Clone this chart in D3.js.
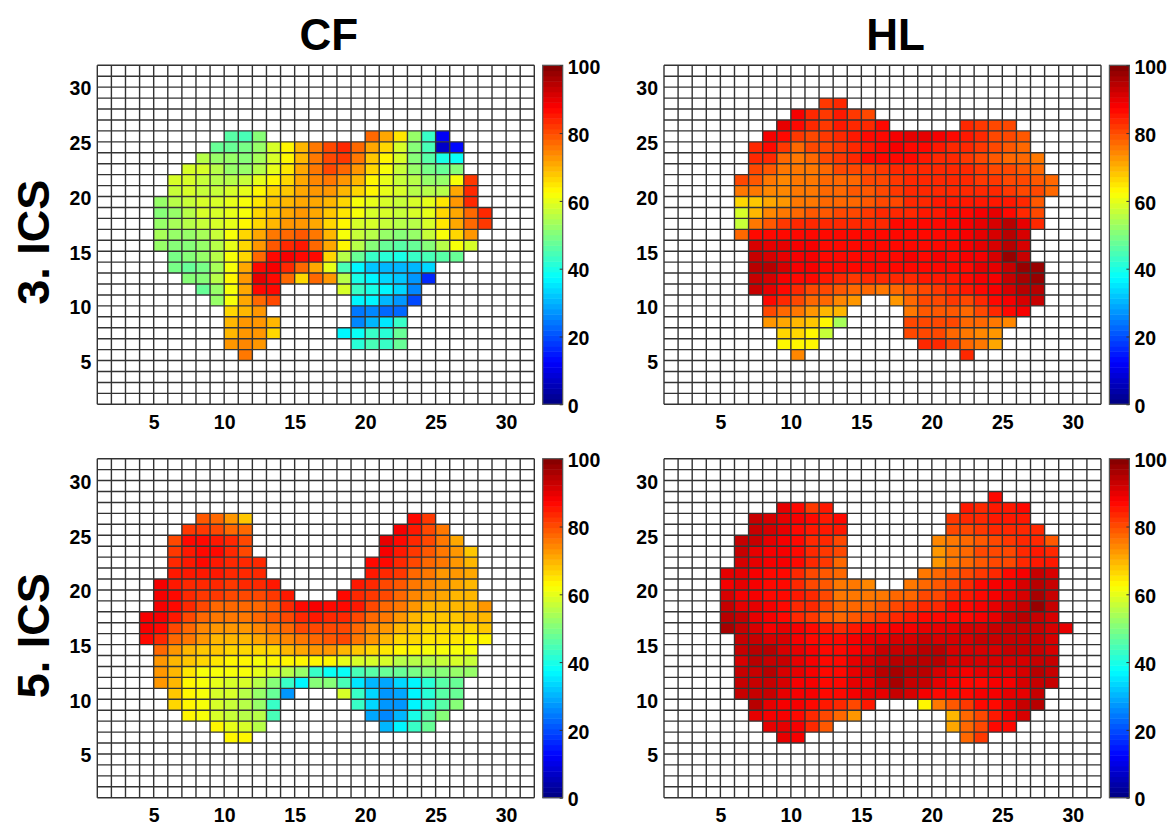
<!DOCTYPE html>
<html>
<head>
<meta charset="utf-8">
<script src="https://cdn.jsdelivr.net/npm/d3@7"></script>
<style>
  html, body { margin: 0; padding: 0; background: #fff; }
  text { font-family: "Liberation Sans", Arial, sans-serif; font-weight: bold; fill: #000; }
</style>
</head>
<body>
<div id="chart"></div>
<script>
// each entry: row (y), first column (x), values for the columns from there on
var cf3 = [
  [25, 10, [46,45,50]], [25, 20, [77,71,65,53,43,12]],
  [24, 9, [47,48,49,52,58,63,70,75,80,83,77,71,67,59,50,44,7,13]],
  [23, 8, [55,53,52,51,54,58,63,70,75,80,82,76,68,64,59,51,46,40,39]],
  [22, 7, [59,58,55,53,53,56,60,65,71,76,80,77,72,66,62,57,52,49,47,50]],
  [21, 6, [59,58,57,55,55,57,60,63,67,71,74,75,73,69,63,60,57,55,52,53,62,82]],
  [20, 6, [57,58,57,57,58,60,63,66,68,71,72,72,70,67,63,60,58,56,56,55,71,83]],
  [19, 5, [52,55,57,58,58,60,62,65,68,70,71,71,69,66,62,60,58,57,58,60,65,72,83]],
  [18, 5, [50,53,56,58,58,60,62,66,68,71,72,71,68,65,61,59,58,57,58,60,66,71,77,83]],
  [17, 5, [53,54,55,57,59,60,63,67,70,73,73,71,66,63,59,58,57,56,55,58,65,71,78,82]],
  [16, 5, [54,52,53,54,57,61,66,71,75,77,79,75,69,62,57,55,53,51,53,57,61,67,73]],
  [15, 5, [52,50,50,52,55,60,67,73,79,83,85,78,71,63,56,51,48,46,48,51,56,62,59]],
  [14, 6, [49,50,52,55,61,67,77,87,89,87,86,67,56,48,43,42,40,43,45,46,47]],
  [13, 6, [49,48,49,54,62,71,87,88,84,77,71,60,44,36,32,31,30,31,33]],
  [12, 7, [51,50,55,64,73,90,87,78,66,77,72,56,40,37,34,32,27,17]],
  [11, 8, [48,53,61,71,86,87]], [11, 18, [58,43,40,36,33,26]],
  [10, 9, [53,62,71,78,81]], [10, 19, [37,36,30,27,19]],
  [9, 10, [66,70,72]], [9, 19, [24,26,23,23]],
  [8, 10, [69,72,73,70]], [8, 19, [26,31,35,43]],
  [7, 10, [69,72,73,67]], [7, 18, [37,38,43,42,47]],
  [6, 10, [73,74,73]], [6, 19, [41,45,43,48]],
  [5, 11, [76]]
];

var hl3 = [
  [28, 12, [82,84]],
  [27, 10, [88,83,82,85,82,80]],
  [26, 9, [90,87,83,82,85,84,84,87]], [26, 22, [84,82,80,81]],
  [25, 8, [89,87,82,81,82,83,85,86,87,89,90,90,89,87,85,83,81,81,79]],
  [24, 7, [84,87,82,78,80,81,82,84,85,87,88,87,86,85,84,83,82,81,79,78]],
  [23, 7, [84,83,78,75,77,80,82,84,86,87,87,86,85,84,83,82,80,79,78,77,75]],
  [22, 7, [81,79,76,75,76,78,80,80,80,82,83,83,84,84,84,83,82,81,80,79,78]],
  [21, 6, [80,79,76,74,76,76,77,78,78,80,81,82,83,84,84,83,83,82,82,81,80,79,78]],
  [20, 6, [75,75,74,74,75,76,77,78,79,79,81,82,83,84,84,83,83,83,83,82,81,80,78]],
  [19, 6, [66,68,71,72,75,76,77,77,78,79,81,81,83,84,85,85,85,85,85,85,84,79]],
  [18, 6, [58,70,74,76,78,79,79,80,81,82,83,84,84,85,85,86,87,89,90,87,84,80]],
  [17, 6, [57,75,79,82,84,83,83,84,84,84,84,86,86,86,87,87,89,90,91,94,90,84]],
  [16, 6, [77,87,87,87,87,87,87,86,87,87,87,87,87,87,87,87,89,90,92,95,92]],
  [15, 7, [91,90,90,89,89,87,87,87,87,87,87,87,87,87,87,88,90,92,95,92]],
  [14, 7, [93,91,90,89,88,87,87,87,87,86,87,88,87,88,87,88,89,91,97,93]],
  [13, 7, [94,94,91,89,88,87,87,87,87,86,87,86,86,87,87,87,90,90,93,97,97]],
  [12, 7, [93,92,88,87,87,85,83,82,83,84,84,84,85,85,85,86,88,88,93,96,97]],
  [11, 7, [93,90,87,84,81,80,79,78,77,76,77,79,81,82,84,85,87,89,91,95,95]],
  [10, 8, [87,84,81,78,77,74,73]], [10, 17, [73,77,80,81,82,81,83,86,89,92,93]],
  [9, 8, [81,78,75,72,70,69]], [9, 18, [76,79,79,79,78,80,83,87,89]],
  [8, 8, [72,71,70,68,63,54]], [8, 18, [81,81,81,80,78,77,75,74]],
  [7, 9, [67,67,63,57]], [7, 18, [80,80,81,78,76,74,72]],
  [6, 9, [64,64,63]], [6, 19, [83,83,80,78,75,71]],
  [5, 10, [74]], [5, 22, [84]]
];

var cf5 = [
  [26, 8, [79,77,73,68]], [26, 23, [86,82]],
  [25, 7, [82,82,80,78,77]], [25, 22, [88,85,80,76]],
  [24, 6, [80,86,87,85,83,80]], [24, 21, [90,87,83,80,76,71]],
  [23, 6, [82,85,87,86,84,81]], [23, 21, [88,85,82,79,75,72,68]],
  [22, 6, [83,85,86,85,84,83,83]], [22, 20, [87,86,83,81,78,75,72,70]],
  [21, 6, [85,85,85,85,84,84,83]], [21, 20, [85,84,82,78,76,73,72,71]],
  [20, 5, [89,85,84,84,83,82,83,83,85]], [20, 19, [85,84,81,79,76,74,72,71,70]],
  [19, 5, [89,87,84,82,82,81,81,81,82,85]], [19, 18, [87,84,82,80,77,74,72,71,70,69]],
  [18, 5, [89,86,83,80,78,78,77,78,79,83,86,88,87,87,85,81,77,75,72,70,69,69,70,73]],
  [17, 4, [89,89,85,81,77,76,75,75,77,79,81,83,85,84,84,80,78,75,72,70,68,68,68,69,70]],
  [16, 4, [89,87,80,78,74,73,72,72,74,76,77,80,80,81,80,77,74,72,70,68,67,66,66,66,68]],
  [15, 4, [87,83,78,75,72,70,69,69,71,72,74,76,77,79,80,75,72,69,67,66,65,65,65,64,64]],
  [14, 5, [77,72,70,68,68,67,66,66,67,70,71,72,72,70,68,66,65,64,63,62,62,61,61]],
  [13, 5, [72,70,68,66,65,63,63,62,63,63,63,63,63,60,58,58,58,56,56,56,57,58,57]],
  [12, 5, [72,69,65,62,62,61,62,60,58,56,53,43,39,38,45,46,47,47,49,50,50,52,53]],
  [11, 5, [73,69,64,62,60,59,58,55,50,43,37,51,51,44,35,30,29,33,37,42,46,47]],
  [10, 6, [68,63,61,59,58,56,53,47,28]], [10, 18, [58,43,33,28,29,36,42,46,47]],
  [9, 6, [67,63,61,58,57,56,52,43]], [9, 19, [43,34,27,27,36,41,46,51]],
  [8, 7, [64,61,59,57,56,55,44]], [8, 20, [29,25,30,40,46,50]],
  [7, 9, [64,60,59,56]], [7, 21, [30,36,43,47]],
  [6, 10, [64,63]]
];

var hl5 = [
  [28, 24, [87]],
  [27, 9, [90,87,82,85]], [27, 22, [85,84,85,85,86]],
  [26, 7, [93,92,90,88,86,85,87]], [26, 21, [82,83,83,85,85,85]],
  [25, 7, [93,91,90,87,85,85,85]], [25, 21, [80,81,82,83,84,83,83]],
  [24, 6, [93,93,90,89,87,84,83,81]], [24, 20, [74,76,78,79,81,82,83,83,79]],
  [23, 6, [93,90,89,88,87,83,82,81]], [23, 20, [72,76,78,80,81,81,83,85,83]],
  [22, 6, [92,90,88,88,86,84,82,77]], [22, 20, [73,76,78,79,81,81,84,85,85]],
  [21, 5, [90,90,89,87,86,83,81,79,77]], [21, 19, [75,77,79,80,82,84,86,89,93,92]],
  [20, 5, [89,90,88,87,87,84,81,79,76,76,74]], [20, 18, [76,78,79,81,84,86,88,89,91,94,93]],
  [19, 5, [91,89,88,87,86,85,83,80,76,75,75,76,77,78,80,81,83,85,87,89,90,92,96,93]],
  [18, 5, [93,90,90,88,87,84,83,81,78,77,78,79,81,82,83,84,86,87,88,90,92,93,97,93]],
  [17, 5, [94,93,90,88,86,84,82,79,78,79,80,82,84,85,86,86,87,87,89,90,93,94,93,91]],
  [16, 5, [96,93,92,89,90,88,86,85,83,85,86,87,88,88,90,90,90,91,92,93,93,93,93,91,90]],
  [15, 6, [93,93,92,91,89,87,87,87,88,90,90,91,92,93,92,91,91,93,93,93,93,93,92]],
  [14, 6, [93,94,94,92,90,88,87,87,89,90,93,93,93,94,95,92,91,92,91,93,93,93,92]],
  [13, 6, [92,95,93,93,90,88,87,87,90,91,93,94,94,94,95,91,91,91,92,91,92,93,93]],
  [12, 6, [93,93,95,92,90,88,87,87,90,92,94,96,95,94,92,90,89,90,90,90,91,94,93]],
  [11, 6, [93,93,93,91,88,88,87,87,90,90,93,96,93,93,90,88,87,87,88,89,92,93,93]],
  [10, 6, [93,93,93,90,89,88,87,86,88,90,90,93,91,89,86,86,87,88,89,90,90,93]],
  [9, 7, [94,90,89,88,87,85,83,81,85]], [9, 19, [64,75,79,82,86,87,90,93,95]],
  [8, 7, [90,89,88,87,83,81,78,72]], [8, 21, [70,77,81,85,88,91]],
  [7, 8, [90,90,88,83,79]], [7, 21, [71,77,81,86,86]],
  [6, 9, [90,88]], [6, 22, [78,82]]
];

var colTitles = ["CF", "HL"];
var rowTitles = ["3. ICS", "5. ICS"];
var gridTicks = [5, 10, 15, 20, 25, 30];
var barTicks = [0, 20, 40, 60, 80, 100];
var panelData = [cf3, hl3, cf5, hl5];

var svgWidth = 1170;
var svgHeight = 824;
var plotW = 437;
var plotH = 339;
var barW = 20;
var colX = [97.3, 664];
var rowY = [65.3, 458.7];

var svg = d3.select("#chart").append("svg")
  .attr("width", svgWidth)
  .attr("height", svgHeight)
  .style("display", "block");

// jet colormap, 64 steps like the original colorbar
var jet = d3.scaleLinear()
  .domain([0, 12.5, 37.5, 62.5, 87.5, 100])
  .range(["#000080", "#0000ff", "#00ffff", "#ffff00", "#ff0000", "#800000"])
  .clamp(true);
function color(v) {
  var i = Math.min(63, Math.floor(v / 100 * 64));
  return jet((i + 0.5) / 64 * 100);
}

var x = d3.scaleLinear().domain([1, 32]).range([0, plotW]);
var y = d3.scaleLinear().domain([1, 32]).range([plotH, 0]);
var barY = d3.scaleLinear().domain([0, 100]).range([plotH, 0]);

panelData.forEach(function(segs, n) {
  var g = svg.append("g")
    .attr("transform", `translate(${colX[n % 2]}, ${rowY[Math.floor(n / 2)]})`);

  // flatten the segments to cells
  var cells = [];
  segs.forEach(function(s) {
    s[2].forEach(function(v, i) {
      cells.push({ row: s[0], col: s[1] + i, value: v });
    });
  });

  g.selectAll("rect.cell")
    .data(cells)
    .join("rect")
    .attr("class", "cell")
    .attr("x", d => x(d.col))
    .attr("y", d => y(d.row + 1))
    .attr("width", x(2) - x(1))
    .attr("height", y(1) - y(2))
    .attr("fill", d => color(d.value));

  // grid lines
  var lines = d3.range(1, 33);
  g.selectAll("line.v")
    .data(lines)
    .join("line")
    .attr("class", "v")
    .attr("x1", d => x(d)).attr("x2", d => x(d))
    .attr("y1", 0).attr("y2", plotH)
    .attr("stroke", "#333").attr("stroke-width", 1.4);
  g.selectAll("line.h")
    .data(lines)
    .join("line")
    .attr("class", "h")
    .attr("x1", 0).attr("x2", plotW)
    .attr("y1", d => y(d)).attr("y2", d => y(d))
    .attr("stroke", "#333").attr("stroke-width", 1.4);

  var bottomAxis = d3.axisBottom(x).tickValues(gridTicks).tickSize(0).tickPadding(5).tickFormat(d3.format("d"));
  var leftAxis = d3.axisLeft(y).tickValues(gridTicks).tickSize(0).tickPadding(6).tickFormat(d3.format("d"));
  var ax = g.append("g").attr("transform", `translate(0, ${plotH})`).call(bottomAxis);
  var ay = g.append("g").call(leftAxis);
  ax.select(".domain").remove();
  ay.select(".domain").remove();
  ax.selectAll("text").style("font-size", "19.5px").attr("dy", "1em");
  ay.selectAll("text").style("font-size", "19.5px").attr("dy", "0.4em");

  // colorbar
  var bar = g.append("g").attr("transform", `translate(${plotW + 8.4}, 0)`);
  var levels = d3.range(64);
  bar.selectAll("rect")
    .data(levels)
    .join("rect")
    .attr("x", 0)
    .attr("y", d => barY((d + 1) / 64 * 100))
    .attr("width", barW)
    .attr("height", plotH / 64 + 0.5)
    .attr("fill", d => color((d + 0.5) / 64 * 100));
  bar.append("rect")
    .attr("width", barW).attr("height", plotH)
    .attr("fill", "none").attr("stroke", "#555").attr("stroke-width", 1.2);

  var barAxis = d3.axisRight(barY).tickValues(barTicks).tickSize(-3).tickPadding(7);
  var ab = bar.append("g").attr("transform", `translate(${barW}, 0)`).call(barAxis);
  ab.select(".domain").remove();
  ab.selectAll("line").attr("stroke", "#333");
  ab.selectAll("text").style("font-size", "19.5px").attr("x", 5).attr("dy", "0.42em");
});

colTitles.forEach(function(t, i) {
  svg.append("text")
    .attr("x", colX[i] + 231.5)
    .attr("y", 50)
    .attr("text-anchor", "middle")
    .style("font-size", "44px")
    .text(t);
});

rowTitles.forEach(function(t, i) {
  svg.append("text")
    .attr("transform", `translate(49, ${rowY[i] + 177}) rotate(-90)`)
    .attr("text-anchor", "middle")
    .style("font-size", "45px")
    .text(t);
});
</script>
</body>
</html>
